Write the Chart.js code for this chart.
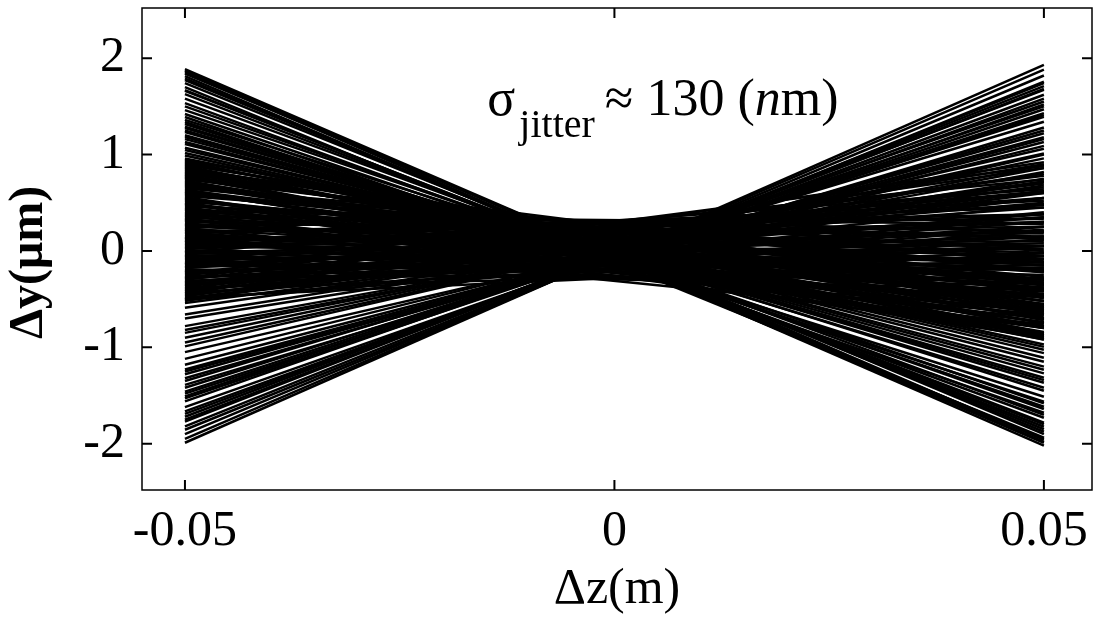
<!DOCTYPE html>
<html><head><meta charset="utf-8">
<script src="https://cdn.jsdelivr.net/npm/chart.js@4.4.0/dist/chart.umd.min.js"></script>
<style>html,body{margin:0;padding:0;background:#fff;}</style>
</head><body>
<canvas id="c" width="1094" height="624"></canvas>
<script>
// z positions of the two ends of every trajectory (m)
const zStart = -0.05;
const zEnd = 0.05;

// trajectories starting high on the left (sparse band), ending low on the right
const upperStartY = [1.886,1.855,1.813,1.772,1.70,1.668,1.627,1.534,1.42,1.389,1.337,1.316,1.275,1.233,1.181,1.13,1.109,1.047,1.016,
  1.87,1.84,1.79,1.74,1.66,1.58,1.50,1.46,1.36,1.29,1.25,1.20,1.16,1.07,0.99];
const upperEndY   = [-1.96,-2.02,-1.99,-1.876,-1.938,-1.824,-1.782,-1.731,-1.617,-1.679,-1.565,-1.513,-1.368,-1.316,-1.233,-1.15,-1.109,-1.026,-0.995,
  -1.98,-1.90,-1.95,-1.85,-1.80,-1.70,-1.64,-1.58,-1.45,-1.42,-1.34,-1.27,-1.20,-1.06,-0.97];

// trajectories starting low on the left (sparse band), ending high on the right
const lowerStartY = [-1.99,-1.855,-1.77,-1.72,-1.665,-1.56,-1.51,-1.46,-1.42,-1.35,-1.28,-1.23,-1.18,-0.99,-0.95,-0.90,-0.85,-0.78,-0.66,-0.59,-0.54,
  -1.95,-1.90,-1.82,-1.75,-1.69,-1.62,-1.53,-1.48,-1.39,-1.32,-1.25,-1.12,-1.05,-0.82,-0.70];
const lowerEndY   = [1.93,1.755,1.71,1.67,1.58,1.55,1.50,1.43,1.39,1.34,1.22,1.18,1.13,1.06,1.01,0.96,0.89,0.82,0.75,0.68,0.60,
  1.88,1.82,1.74,1.68,1.62,1.52,1.47,1.41,1.28,1.25,1.16,1.09,1.00,0.86,0.72];

// dense core of trajectories (first set)
const coreStartY = [0.96,0.94,0.93,0.91,0.89,0.88,0.86,0.84,0.83,0.81,
  0.79,0.78,0.76,0.74,0.73,0.71,0.69,0.68,0.66,0.64,
  0.63,0.61,0.59,0.58,0.56,0.54,0.53,0.51,0.49,0.48,
  0.46,0.44,0.43,0.41,0.39,0.38,0.36,0.34,0.33,0.31,
  0.29,0.28,0.26,0.24,0.23,0.21,0.19,0.18,0.16,0.14,
  0.13,0.11,0.09,0.08,0.06,0.04,0.03,0.01,-0.01,-0.03,
  -0.04,-0.06,-0.08,-0.09,-0.11,-0.13,-0.14,-0.16,-0.18,-0.19,
  -0.21,-0.23,-0.24,-0.26,-0.28,-0.29,-0.31,-0.33,-0.34,-0.36,
  -0.38,-0.39,-0.41,-0.43,-0.44,-0.46,-0.48,-0.49,-0.51,-0.52];
const coreEndY = [-0.85,-0.62,-0.90,-0.71,-0.45,-0.88,-0.58,-0.79,-0.30,-0.66,
  -0.92,-0.49,-0.75,-0.22,-0.84,-0.55,-0.36,-0.70,-0.12,-0.88,
  -0.47,-0.63,-0.27,0.00,-0.80,-0.41,-0.58,-0.15,-0.90,-0.33,
  0.12,-0.62,-0.48,-0.05,-0.74,-0.22,0.28,-0.86,-0.38,0.05,
  -0.56,-0.12,0.33,-0.70,-0.29,0.18,-0.45,0.45,-0.05,-0.76,
  0.25,-0.35,0.52,-0.18,0.10,-0.60,0.38,-0.25,0.64,0.02,
  -0.48,0.30,-0.08,0.55,-0.33,0.15,0.74,-0.15,0.45,-0.40,
  0.05,0.66,0.25,-0.28,0.88,0.38,-0.05,0.55,0.15,0.92,
  -0.18,0.70,0.35,0.05,0.80,0.48,-0.08,0.62,0.25,0.90];

// dense core of trajectories (second set)
const core2StartY = [0.95,0.92,0.90,0.87,0.85,0.82,0.80,0.77,0.75,0.72,
  0.70,0.67,0.65,0.62,0.60,0.57,0.55,0.52,0.50,0.47,
  0.45,0.42,0.40,0.37,0.35,0.32,0.30,0.27,0.25,0.22,
  0.20,0.17,0.15,0.12,0.10,0.07,0.05,0.02,0.00,-0.02,
  -0.05,-0.07,-0.10,-0.12,-0.15,-0.17,-0.20,-0.22,-0.25,-0.27,
  -0.30,-0.32,-0.35,-0.37,-0.40,-0.42,-0.45,-0.47,-0.50,-0.50];
const core2EndY = [-0.72,-0.80,-0.60,-0.92,-0.40,-0.70,-0.52,-0.86,-0.35,-0.62,
  -0.78,-0.42,-0.20,-0.74,-0.52,-0.10,-0.86,-0.30,-0.68,-0.08,
  -0.52,0.20,-0.40,-0.80,-0.15,-0.64,0.15,-0.32,-0.02,-0.55,
  0.38,-0.20,-0.66,0.05,-0.42,0.30,-0.12,0.48,-0.38,0.20,
  -0.20,0.60,0.08,-0.30,0.35,0.62,-0.12,0.22,0.50,-0.02,
  0.78,0.30,0.05,0.62,0.20,0.86,0.40,0.72,0.12,0.55];

const xTicks = [-0.05, 0, 0.05];
const xTickLabels = ['-0.05', '0', '0.05'];
const yTicks = [-2, -1, 0, 1, 2];
const yTickLabels = ['-2', '-1', '0', '1', '2'];

const xTitle = 'Δz(m)';
const yTitle = 'Δy(μm)';

const SERIF = "'Liberation Serif', 'Times New Roman', serif";

const startY = upperStartY.concat(lowerStartY, coreStartY, core2StartY);
const endY = upperEndY.concat(lowerEndY, coreEndY, core2EndY);

const datasets = startY.map((ys, i) => ({
  data: [{x: zStart, y: ys}, {x: zEnd, y: endY[i]}],
  showLine: true,
  borderColor: '#000',
  backgroundColor: '#000',
  borderWidth: 2.5,
  pointRadius: 0,
  fill: false
}));

function noPad(s) {
  s.paddingTop = 0; s.paddingBottom = 0; s.paddingLeft = 0; s.paddingRight = 0;
}

const framePlugin = {
  id: 'frameAndText',
  afterDraw(chart) {
    const {ctx, chartArea: a, scales: {x, y}} = chart;
    ctx.save();
    ctx.strokeStyle = '#000';
    ctx.lineWidth = 1.5;
    ctx.strokeRect(a.left, a.top, a.right - a.left, a.bottom - a.top);
    ctx.lineWidth = 2;
    ctx.beginPath();
    xTicks.forEach(v => {
      const p = x.getPixelForValue(v);
      ctx.moveTo(p, a.bottom); ctx.lineTo(p, a.bottom - 10);
      ctx.moveTo(p, a.top); ctx.lineTo(p, a.top + 10);
    });
    yTicks.forEach(v => {
      const p = y.getPixelForValue(v);
      ctx.moveTo(a.left, p); ctx.lineTo(a.left + 10, p);
      ctx.moveTo(a.right, p); ctx.lineTo(a.right - 10, p);
    });
    ctx.stroke();

    // y-axis title (rotated)
    ctx.fillStyle = '#000';
    ctx.save();
    ctx.translate(30, y.getPixelForValue(-0.12));
    ctx.rotate(-Math.PI / 2);
    ctx.font = "bold 48px " + SERIF;
    ctx.textAlign = 'center';
    ctx.textBaseline = 'middle';
    ctx.fillText(yTitle, 0, 0);
    ctx.restore();

    // annotation: sigma_jitter ≈ 130 (nm)
    let px = x.getPixelForValue(-0.0148);
    const base = y.getPixelForValue(1.41);
    ctx.textAlign = 'left';
    ctx.textBaseline = 'alphabetic';
    ctx.font = "52px " + SERIF;
    ctx.fillText('σ', px, base);
    px += ctx.measureText('σ').width + 4;
    ctx.font = "40px " + SERIF;
    ctx.fillText('jitter', px, base + 22);
    px += ctx.measureText('jitter').width + 10;
    ctx.font = "52px " + SERIF;
    ctx.fillText('≈ 130 (', px, base);
    px += ctx.measureText('≈ 130 (').width;
    ctx.font = "italic 52px " + SERIF;
    ctx.fillText('n', px, base);
    px += ctx.measureText('n').width;
    ctx.font = "52px " + SERIF;
    ctx.fillText('m)', px, base);
    ctx.restore();
  }
};

new Chart(document.getElementById('c'), {
  type: 'scatter',
  data: {datasets},
  options: {
    responsive: false,
    animation: false,
    events: [],
    layout: {padding: {top: 8, right: 2, left: 0, bottom: 0}},
    plugins: {legend: {display: false}, tooltip: {enabled: false}},
    scales: {
      x: {
        type: 'linear',
        min: -0.055,
        max: 0.0556,
        afterBuildTicks: s => { s.ticks = xTicks.map(v => ({value: v})); },
        afterFit: s => { s.height = 134; noPad(s); },
        grid: {display: false, drawTicks: false},
        border: {display: false},
        ticks: {
          autoSkip: false, maxRotation: 0, padding: 12, color: '#000',
          font: {family: SERIF, size: 50},
          callback: v => xTickLabels[xTicks.indexOf(v)]
        },
        title: {display: true, text: xTitle, color: '#000', font: {family: SERIF, size: 50}, padding: {top: 0, bottom: 4}}
      },
      y: {
        type: 'linear',
        min: -2.48,
        max: 2.52,
        afterBuildTicks: s => { s.ticks = yTicks.map(v => ({value: v})); },
        afterFit: s => { s.width = 142; noPad(s); },
        grid: {display: false, drawTicks: false},
        border: {display: false},
        ticks: {
          autoSkip: false, padding: 17, color: '#000',
          font: {family: SERIF, size: 50},
          callback: v => yTickLabels[yTicks.indexOf(v)]
        }
      }
    }
  },
  plugins: [framePlugin]
});
</script>
</body></html>
